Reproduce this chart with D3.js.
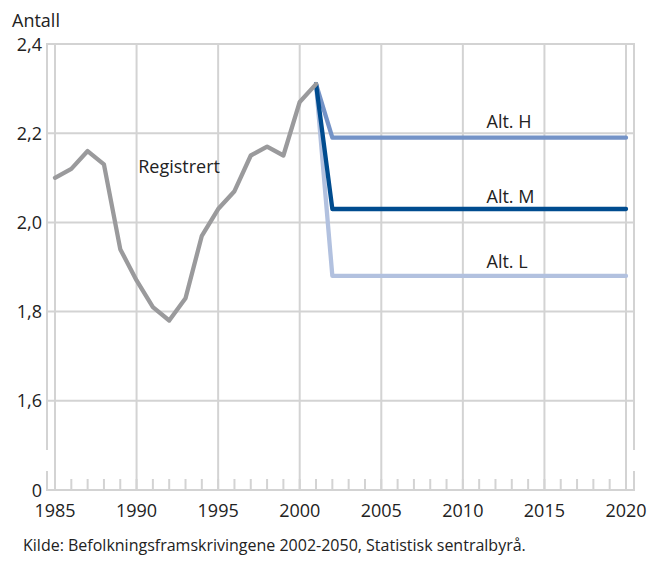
<!DOCTYPE html>
<html>
<head>
<meta charset="utf-8">
<script src="https://cdn.jsdelivr.net/npm/d3@7"></script>
<style>
  body { margin: 0; background: #fff; }
  svg { font-family: "Open Sans", "DejaVu Sans", sans-serif; }
  .lbl { font-size: 18px; fill: #222; }
  .tick-lbl { font-size: 18px; fill: #222; }
</style>
</head>
<body>
<svg width="659" height="561"></svg>
<script>
// registered values, 1985-2001
var years_reg = [1985, 1986, 1987, 1988, 1989, 1990, 1991, 1992, 1993, 1994, 1995, 1996, 1997, 1998, 1999, 2000, 2001];
var registrert = [2.10, 2.12, 2.16, 2.13, 1.94, 1.87, 1.81, 1.78, 1.83, 1.97, 2.03, 2.07, 2.15, 2.17, 2.15, 2.27, 2.31];

// projections, 2001-2020
var years_proj = [2001, 2002, 2003, 2004, 2005, 2006, 2007, 2008, 2009, 2010, 2011, 2012, 2013, 2014, 2015, 2016, 2017, 2018, 2019, 2020];
var alt_h = [2.31, 2.19, 2.19, 2.19, 2.19, 2.19, 2.19, 2.19, 2.19, 2.19, 2.19, 2.19, 2.19, 2.19, 2.19, 2.19, 2.19, 2.19, 2.19, 2.19];
var alt_m = [2.31, 2.03, 2.03, 2.03, 2.03, 2.03, 2.03, 2.03, 2.03, 2.03, 2.03, 2.03, 2.03, 2.03, 2.03, 2.03, 2.03, 2.03, 2.03, 2.03];
var alt_l = [2.31, 1.88, 1.88, 1.88, 1.88, 1.88, 1.88, 1.88, 1.88, 1.88, 1.88, 1.88, 1.88, 1.88, 1.88, 1.88, 1.88, 1.88, 1.88, 1.88];

// y axis is broken: bottom tick stands for 0
var y_ticks = [1.4, 1.6, 1.8, 2.0, 2.2, 2.4];
var y_tick_labels = ["0", "1,6", "1,8", "2,0", "2,2", "2,4"];
var x_ticks = [1985, 1990, 1995, 2000, 2005, 2010, 2015, 2020];

var svg = d3.select("svg");
var grid_col = "#d3d3d3";

var x = d3.scaleLinear().domain([1985, 2020]).range([55, 626]);
var y = d3.scaleLinear().domain([1.4, 2.4]).range([490, 44]);
var left = 47, right = 634;

// horizontal grid
svg.append("g")
    .selectAll("line")
    .data(y_ticks)
    .enter()
    .append("line")
        .attr("x1", left).attr("x2", right)
        .attr("y1", d => y(d)).attr("y2", d => y(d))
        .style("stroke", grid_col).style("stroke-width", 2);

// vertical grid
svg.append("g")
    .selectAll("line")
    .data(x_ticks)
    .enter()
    .append("line")
        .attr("x1", d => x(d)).attr("x2", d => x(d))
        .attr("y1", y(2.4)).attr("y2", y(1.4))
        .style("stroke", grid_col).style("stroke-width", 2);

// yearly minor ticks
svg.append("g")
    .selectAll("line")
    .data(d3.range(1985, 2021))
    .enter()
    .append("line")
        .attr("x1", d => x(d)).attr("x2", d => x(d))
        .attr("y1", y(1.4) - 11).attr("y2", y(1.4))
        .style("stroke", grid_col).style("stroke-width", 2);

// frame sides with break
[left, right].forEach(function(px) {
    svg.append("line")
        .attr("x1", px).attr("x2", px)
        .attr("y1", y(2.4) - 1).attr("y2", 450)
        .style("stroke", grid_col).style("stroke-width", 2);
    svg.append("line")
        .attr("x1", px).attr("x2", px)
        .attr("y1", 471).attr("y2", y(1.4) + 1)
        .style("stroke", grid_col).style("stroke-width", 2);
});

// tick labels
svg.append("g")
    .selectAll("text")
    .data(y_ticks)
    .enter()
    .append("text")
        .attr("class", "tick-lbl")
        .attr("x", 42)
        .attr("y", d => y(d) + 6.5)
        .attr("text-anchor", "end")
        .text((d, i) => y_tick_labels[i]);

svg.append("g")
    .selectAll("text")
    .data(x_ticks)
    .enter()
    .append("text")
        .attr("class", "tick-lbl")
        .attr("x", d => x(d))
        .attr("y", 517)
        .attr("text-anchor", "middle")
        .text(d => d);

// lines
var line = d3.line()
    .x(d => x(d[0]))
    .y(d => y(d[1]));

function zip(xs, ys) { return xs.map((v, i) => [v, ys[i]]); }

var series = [
    { name: "Alt. L", data: zip(years_proj, alt_l), color: "#b2c1df" },
    { name: "Alt. H", data: zip(years_proj, alt_h), color: "#7493c7" },
    { name: "Alt. M", data: zip(years_proj, alt_m), color: "#004c8f" },
    { name: "Registrert", data: zip(years_reg, registrert), color: "#9a9a9c" }
];

svg.append("g")
    .selectAll("path")
    .data(series)
    .enter()
    .append("path")
        .attr("d", d => line(d.data))
        .style("fill", "none")
        .style("stroke", d => d.color)
        .style("stroke-width", 4.3)
        .style("stroke-linejoin", "round")
        .style("stroke-linecap", "round");

// series labels
var labels = [
    { text: "Registrert", year: 1990.1, value: 2.11 },
    { text: "Alt. H", year: 2011.45, value: 2.211 },
    { text: "Alt. M", year: 2011.45, value: 2.044 },
    { text: "Alt. L", year: 2011.45, value: 1.898 }
];
svg.append("g")
    .selectAll("text")
    .data(labels)
    .enter()
    .append("text")
        .attr("class", "lbl")
        .attr("x", d => x(d.year))
        .attr("y", d => y(d.value))
        .text(d => d.text);

svg.append("text")
    .attr("class", "lbl")
    .attr("x", 12).attr("y", 26.5)
    .text("Antall");

svg.append("text")
    .attr("x", 23).attr("y", 551)
    .style("font-size", "16px")
    .style("fill", "#222")
    .text("Kilde: Befolkningsframskrivingene 2002-2050, Statistisk sentralbyrå.");
</script>
</body>
</html>
